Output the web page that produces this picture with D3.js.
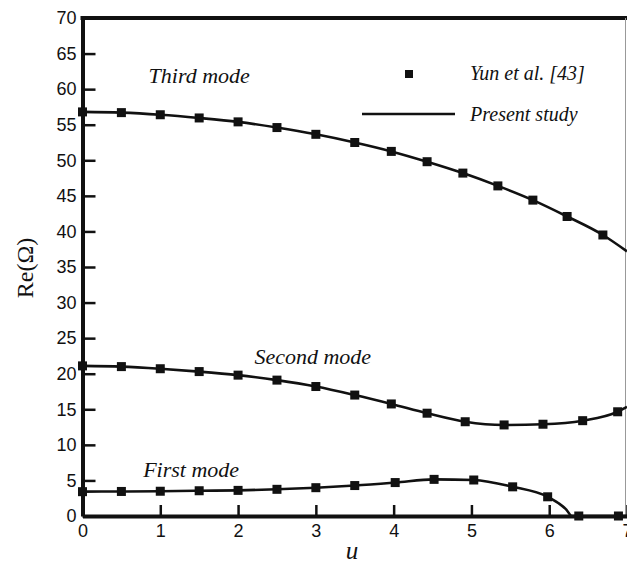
<!DOCTYPE html>
<html>
<head>
<meta charset="utf-8">
<script src="https://cdn.jsdelivr.net/npm/d3@7"></script>
<style>
  body { margin: 0; background: #fff; }
  svg { display: block; }
  .tick text { font-family: "Liberation Sans", Arial, sans-serif; font-size: 18px; fill: #111; }
  .tick line { stroke: #111; stroke-width: 2.5; }
  .domain { stroke: #111; stroke-width: 4; }
</style>
</head>
<body>
<div id="chart"></div>
<script>
// Yun et al. [43] (markers)
var thirdU  = [0, 0.5, 1, 1.5, 2, 2.5, 3, 3.5, 3.97, 4.43, 4.89, 5.34, 5.79, 6.23, 6.69];
var thirdRe = [56.8, 56.7, 56.4, 55.95, 55.4, 54.6, 53.65, 52.5, 51.25, 49.8, 48.2, 46.4, 44.4, 42.1, 39.5];

var secondU  = [0, 0.5, 1, 1.5, 2, 2.5, 3, 3.5, 3.97, 4.43, 4.92, 5.42, 5.92, 6.43, 6.88];
var secondRe = [21.1, 21.0, 20.7, 20.3, 19.8, 19.1, 18.2, 17.0, 15.75, 14.45, 13.25, 12.8, 12.9, 13.4, 14.65];

var firstU  = [0, 0.5, 1, 1.5, 2, 2.5, 3, 3.5, 4.02, 4.52, 5.03, 5.53, 5.98, 6.38, 6.89];
var firstRe = [3.42, 3.45, 3.48, 3.55, 3.6, 3.75, 3.98, 4.28, 4.7, 5.15, 5.06, 4.1, 2.7, 0, 0];

// Present study (lines), extra end points
var thirdLineU  = thirdU.concat([7]);
var thirdLineRe = thirdRe.concat([37.2]);
var secondLineU  = secondU.concat([7]);
var secondLineRe = secondRe.concat([15.35]);
var firstLineU  = [0, 0.5, 1, 1.5, 2, 2.5, 3, 3.5, 4.02, 4.52, 5.03, 5.53, 5.98, 6.12, 6.22, 6.29, 6.38, 6.89, 7];
var firstLineRe = [3.42, 3.45, 3.48, 3.55, 3.6, 3.75, 3.98, 4.28, 4.7, 5.15, 5.06, 4.1, 2.7, 1.8, 0.9, 0, 0, 0, 0];

var modeLabels = [
	{ text: 'Third mode', u: 0.85, re: 60.8 },
	{ text: 'Second mode', u: 2.21, re: 21.4 },
	{ text: 'First mode', u: 0.78, re: 5.5 }
];

var xTicks = [0, 1, 2, 3, 4, 5, 6, 7];
var yTicks = [0, 5, 10, 15, 20, 25, 30, 35, 40, 45, 50, 55, 60, 65, 70];

function zip(us, res) {
	return us.map(function(u, i) { return { u: u, re: res[i] }; });
}

var svg = d3.select('#chart').append('svg').attr('width', 627).attr('height', 570);

var xScale = d3.scaleLinear().domain([0, 7]).range([82.5, 627]);
var yScale = d3.scaleLinear().domain([0, 70]).range([516, 18]);

// frame: top thick, right thin grey edge
svg.append('line')
	.attr('x1', 80.5).attr('x2', 627)
	.attr('y1', yScale(70)).attr('y2', yScale(70))
	.attr('stroke', '#111').attr('stroke-width', 4);
svg.append('line')
	.attr('x1', 625.5).attr('x2', 625.5)
	.attr('y1', 18).attr('y2', 516)
	.attr('stroke', '#999').attr('stroke-width', 1);

var xAxis = d3.axisBottom(xScale).tickValues(xTicks).tickFormat(d3.format('d'))
	.tickSizeInner(-11).tickSizeOuter(0).tickPadding(8);
var yAxis = d3.axisLeft(yScale).tickValues(yTicks).tickFormat(d3.format('d'))
	.tickSizeInner(-13).tickSizeOuter(0).tickPadding(6);

svg.append('g').attr('transform', 'translate(0,' + yScale(0) + ')').call(xAxis);
svg.append('g').attr('transform', 'translate(' + xScale(0) + ',0)').call(yAxis);

// axis titles
svg.append('text')
	.attr('transform', 'translate(33,268) rotate(-90)')
	.attr('text-anchor', 'middle')
	.style('font-family', '"Liberation Serif", "Times New Roman", serif')
	.style('font-size', '24px')
	.attr('fill', '#111')
	.text('Re(Ω)');

svg.append('text')
	.attr('x', 352).attr('y', 559)
	.attr('text-anchor', 'middle')
	.style('font-family', '"Liberation Serif", "Times New Roman", serif')
	.style('font-style', 'italic')
	.style('font-size', '25px')
	.attr('fill', '#111')
	.text('u');

var line = d3.line()
	.x(function(d) { return xScale(d.u); })
	.y(function(d) { return yScale(d.re); })
	.curve(d3.curveMonotoneX);

var lines = [zip(thirdLineU, thirdLineRe), zip(secondLineU, secondLineRe), zip(firstLineU, firstLineRe)];
var marks = [zip(thirdU, thirdRe), zip(secondU, secondRe), zip(firstU, firstRe)];

lines.forEach(function(pts) {
	svg.append('path')
		.attr('d', line(pts))
		.attr('fill', 'none')
		.attr('stroke', '#111')
		.attr('stroke-width', 2.6);
});

var ms = 9;
marks.forEach(function(pts) {
	svg.append('g')
		.selectAll('rect')
		.data(pts)
		.enter()
		.append('rect')
		.attr('x', function(d) { return xScale(d.u) - ms / 2; })
		.attr('y', function(d) { return yScale(d.re) - ms / 2; })
		.attr('width', ms)
		.attr('height', ms)
		.attr('fill', '#111');
});

svg.append('g')
	.selectAll('text')
	.data(modeLabels)
	.enter()
	.append('text')
	.attr('x', function(d) { return xScale(d.u); })
	.attr('y', function(d) { return yScale(d.re); })
	.style('font-family', '"Liberation Serif", "Times New Roman", serif')
	.style('font-style', 'italic')
	.style('font-size', '22px')
	.attr('fill', '#111')
	.text(function(d) { return d.text; });

// legend
var legend = svg.append('g');
legend.append('rect')
	.attr('x', 405).attr('y', 70).attr('width', 8).attr('height', 8)
	.attr('fill', '#111');
legend.append('line')
	.attr('x1', 362).attr('x2', 455).attr('y1', 114).attr('y2', 114)
	.attr('stroke', '#111').attr('stroke-width', 2.6);
legend.selectAll('text')
	.data(['Yun et al. [43]', 'Present study'])
	.enter()
	.append('text')
	.attr('x', 470)
	.attr('y', function(d, i) { return 80 + i * 41; })
	.style('font-family', '"Liberation Serif", "Times New Roman", serif')
	.style('font-style', 'italic')
	.style('font-size', '20px')
	.attr('fill', '#111')
	.text(function(d) { return d; });
</script>
</body>
</html>
